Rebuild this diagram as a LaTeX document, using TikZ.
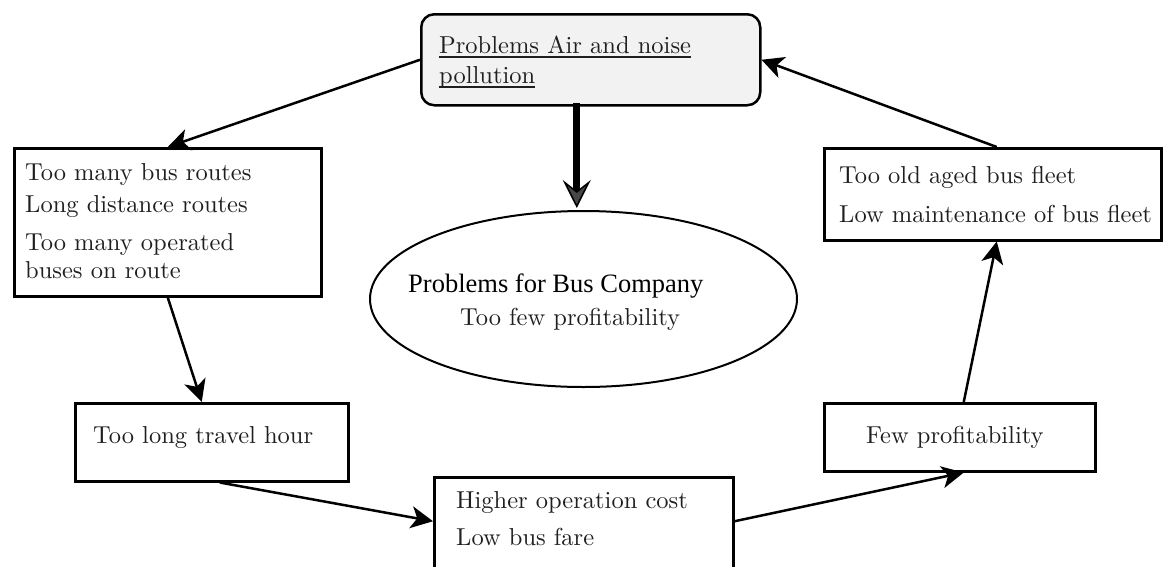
\documentclass[tikz,border=0pt]{standalone}
\usepackage{fontspec}
\setmainfont{lmroman10-regular.otf}
\newfontfamily\timesfont{Liberation Serif}
\usetikzlibrary{arrows.meta,shapes.geometric}

\begin{document}
\begin{tikzpicture}[x=1pt,y=-1pt,
  box/.style={draw=black, line width=2.5pt, rectangle, inner sep=0pt, anchor=north west},
  lbl/.style={anchor=base west, inner sep=0pt, text=black!88,
              font=\fontsize{24.5}{30}\selectfont},
  headlbl/.style={lbl, text=black, font=\timesfont\fontsize{26.5}{30}\selectfont},
  link/.style={draw=black, line width=2.5pt,
               -{Stealth[length=22pt,width=22pt,inset=6pt]}},
  mainlink/.style={draw=black, line width=7pt,
               -{Stealth[length=28pt,width=28pt,inset=11pt,line width=1.5pt,fill=black!72]}}]
\useasboundingbox (0,0) rectangle (1163,566);

% boxes
\node[box, rounded corners=13pt, fill=black!5,
      minimum width=339pt, minimum height=91pt] (top) at (420,13) {};
\node[box, minimum width=307pt, minimum height=148pt] (b1) at (13,147) {};
\node[box, minimum width=273pt, minimum height=78pt]  (b2) at (74,402) {};
\node[box, minimum width=299pt, minimum height=104pt] (b3) at (433,476) {};
\node[box, minimum width=271pt, minimum height=68pt]  (b4) at (823,402) {};
\node[box, minimum width=337pt, minimum height=92pt]  (b5) at (823,147) {};
\node[draw=black, ellipse, line width=2pt, inner sep=0pt,
      minimum width=427pt, minimum height=176pt] (ell) at (583.5,299) {};

% texts
\node[lbl] (topa) at (439,53) {Problems Air and noise\ };
\node[lbl] (topb) at (439,83) {pollution};
\draw[line width=2pt, black!88] ([yshift=-4pt]topa.base west) -- ([yshift=-4pt]topa.base east);
\draw[line width=2pt, black!88] ([yshift=-4pt]topb.base west) -- ([yshift=-4pt]topb.base east);

\node[lbl] (b1a) at (25,180) {Too many bus routes};
\node[lbl] (b1b) at (25,212) {Long distance routes};
\node[lbl] (b1c) at (25,250) {Too many operated};
\node[lbl] (b1d) at (25,278) {buses on route};

\node[lbl] (b2a) at (93,443) {Too long travel hour};

\node[lbl] (b3a) at (456,508) {Higher operation cost};
\node[lbl] (b3b) at (456,545) {Low bus fare};

\node[lbl] (b4a) at (866,443) {Few profitability};

\node[lbl] (b5a) at (839,183) {Too old aged bus fleet};
\node[lbl] (b5b) at (839,222) {Low maintenance of bus fleet};

\node[headlbl] (ella) at (408,292) {Problems for Bus Company};
\node[lbl] (ellb) at (460,325) {Too few profitability};

% connectors
\draw[link] (top.west) -- (b1.north);
\draw[link] (b1.south) -- ([xshift=-10pt]b2.north);
\draw[link] ([xshift=8pt]b2.south) -- ([yshift=8pt]b3.west);
\draw[link] ([yshift=8pt]b3.east) -- ([xshift=4pt]b4.south);
\draw[link] ([xshift=4pt]b4.north) -- ([xshift=4pt]b5.south);
\draw[link] ([xshift=4pt]b5.north) -- (top.east);

\coordinate (dn) at ([xshift=-14pt]top.south);
\draw[mainlink] ([yshift=4pt]dn) -- ([yshift=2pt]dn |- ell.north);
\end{tikzpicture}
\end{document}
